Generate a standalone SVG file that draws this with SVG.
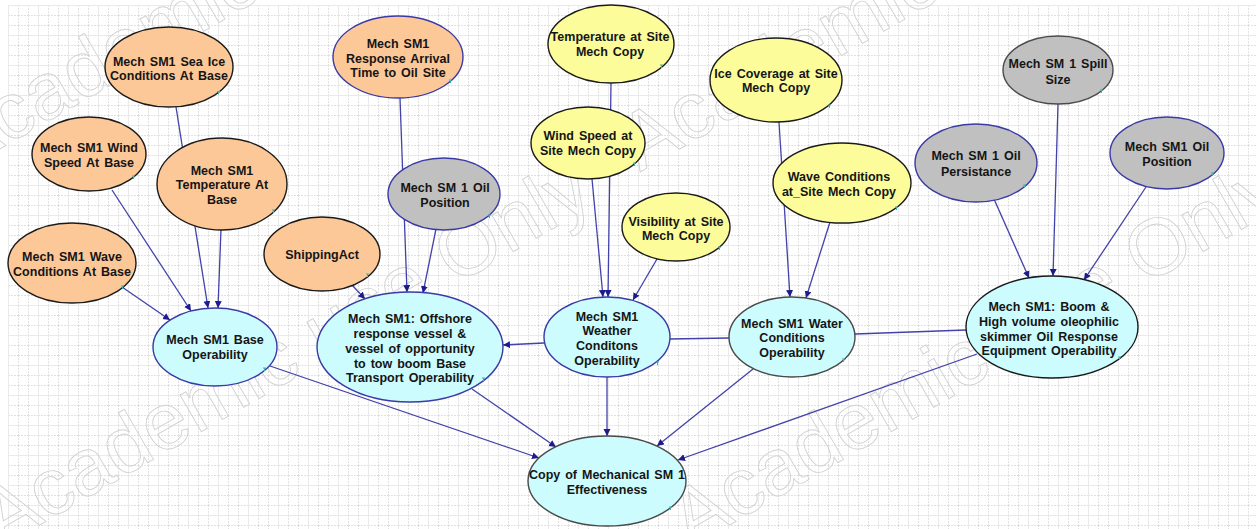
<svg xmlns="http://www.w3.org/2000/svg" width="1256" height="529" viewBox="0 0 1256 529">
  <defs>
    <pattern id="grid" x="8" y="5" width="10" height="10" patternUnits="userSpaceOnUse">
      <path d="M0.5 0 V10 M0 0.5 H10" fill="none" stroke="#e1e1e1" stroke-width="1" stroke-dasharray="2 1"/>
    </pattern>
    <pattern id="gridMajor" x="8" y="5" width="30" height="30" patternUnits="userSpaceOnUse">
      <path d="M0.5 0 V30 M0 0.5 H30" fill="none" stroke="#eaeaea" stroke-width="1"/>
    </pattern>
    <marker id="arrow" markerUnits="userSpaceOnUse" markerWidth="8" markerHeight="8" refX="7" refY="3.5" orient="auto">
      <path d="M0,0 L7,3.5 L0,7 z" fill="#1c1c8c"/>
    </marker>
    <style>
      .edge { fill: none; stroke: #4242aa; stroke-width: 1.3; }
      .arr { marker-end: url(#arrow); }
      ellipse { stroke-width: 1.4; }
      .orange { fill: #fdc898; }
      .yellow { fill: #fdfc9a; }
      .grey { fill: #c0c0c0; }
      .cyan { fill: #ccfcfd; }
      .sk { stroke: #1a1a1a; }
      .sb { stroke: #3a3aa6; }
      .sg { stroke: #4a4a4a; }
      .lbl { font-family: "Liberation Sans", Arial, sans-serif; font-weight: bold; font-size: 12.5px; fill: #151515; text-anchor: middle; word-spacing: 1.5px; }
      .tick { fill: none; stroke: #3ab3b3; stroke-width: 1; }
      .wm { font-family: "Liberation Sans", Arial, sans-serif; font-size: 80px; fill: none; stroke: #d2d2d2; stroke-width: 0.9; }
    </style>
  </defs>

  <!-- canvas -->
  <rect x="0" y="0" width="1256" height="529" fill="#ffffff"/>
  <rect x="8" y="5" width="1248" height="524" fill="url(#grid)"/>
  <rect x="8" y="5" width="1248" height="524" fill="url(#gridMajor)"/>

  <!-- licence watermark, under the graph -->
  <g id="watermark">
    <text class="wm" transform="translate(0,548) rotate(-30)">Academic use Only</text>
    <text class="wm" transform="translate(690,548) rotate(-30)">Academic use Only</text>
    <text class="wm" transform="translate(-40,172) rotate(-30)">Academic use Only</text>
    <text class="wm" transform="translate(640,172) rotate(-30)">Academic use Only</text>
  </g>

  <!-- connectors -->
  <g id="connectors">
    <path class="edge arr" d="M176,107 L208,308"/>
    <path class="edge arr" d="M221,229 L218,308"/>
    <path class="edge arr" d="M112,190 L191,311"/>
    <path class="edge arr" d="M122,287 L170,320"/>
    <path class="edge arr" d="M352,285 L365,299"/>
    <path class="edge arr" d="M400,98 L407,292"/>
    <path class="edge arr" d="M436,229 L423,293"/>
    <path class="edge arr" d="M611,83 L608,297"/>
    <path class="edge arr" d="M592,179 L603,297"/>
    <path class="edge arr" d="M657,259 L633,300"/>
    <path class="edge arr" d="M779,122 L790,297"/>
    <path class="edge arr" d="M830,222 L806,298"/>
    <path class="edge arr" d="M544,343 L503,345"/>
    <path class="edge" d="M670,339 L729,338"/>
    <path class="edge" d="M966,330 L855,334"/>
    <path class="edge arr" d="M270,366 L539,458"/>
    <path class="edge arr" d="M472,389 L556,447"/>
    <path class="edge arr" d="M607,377 L607,436"/>
    <path class="edge arr" d="M753,369 L657,446"/>
    <path class="edge arr" d="M977,354 L678,460"/>
    <path class="edge arr" d="M1058,104 L1053,276"/>
    <path class="edge arr" d="M994,199 L1029,278"/>
    <path class="edge arr" d="M1146,187 L1084,280"/>
  </g>

  <!-- nodes -->
  <g id="sea-ice-base">
    <ellipse class="orange sk" cx="169" cy="67" rx="64" ry="40"/>
    <text class="lbl" x="169" y="65.5">Mech SM1 Sea Ice</text>
    <text class="lbl" x="169" y="79.5">Conditions At Base</text>
    <path class="tick" d="M217,91.5 h3 M218.5,91.5 v3"/>
  </g>
  <g id="wind-speed-base">
    <ellipse class="orange sk" cx="89" cy="154" rx="57" ry="37"/>
    <text class="lbl" x="89" y="151.5">Mech SM1 Wind</text>
    <text class="lbl" x="89" y="166.5">Speed At Base</text>
    <path class="tick" d="M132,176 h3 M133.5,176 v3"/>
  </g>
  <g id="temperature-base">
    <ellipse class="orange sk" cx="222" cy="184" rx="65" ry="46"/>
    <text class="lbl" x="222" y="174.5">Mech SM1</text>
    <text class="lbl" x="222" y="188.5">Temperature At</text>
    <text class="lbl" x="222" y="203.5">Base</text>
    <path class="tick" d="M272,210 h3 M273.5,210 v3"/>
  </g>
  <g id="wave-base">
    <ellipse class="orange sk" cx="72" cy="263" rx="64" ry="40"/>
    <text class="lbl" x="72" y="260.5">Mech SM1 Wave</text>
    <text class="lbl" x="72" y="275.5">Conditions At Base</text>
    <path class="tick" d="M121,286 h3 M122.5,286 v3"/>
  </g>
  <g id="shipping-act">
    <ellipse class="orange sk" cx="322" cy="254" rx="58" ry="37"/>
    <text class="lbl" x="322" y="258.5">ShippingAct</text>
    <path class="tick" d="M366,274 h3 M367.5,274 v3"/>
  </g>
  <g id="response-arrival">
    <ellipse class="orange sb" cx="398" cy="57" rx="65" ry="41"/>
    <text class="lbl" x="398" y="47.5">Mech SM1</text>
    <text class="lbl" x="398" y="62.5">Response Arrival</text>
    <text class="lbl" x="398" y="76.5">Time  to Oil Site</text>
    <path class="tick" d="M449,80 h3 M450.5,80 v3"/>
  </g>
  <g id="oil-position-left">
    <ellipse class="grey sb" cx="444" cy="194" rx="56" ry="36"/>
    <text class="lbl" x="445" y="191.5">Mech SM 1 Oil</text>
    <text class="lbl" x="445" y="206.5">Position</text>
    <path class="tick" d="M488,215 h3 M489.5,215 v3"/>
  </g>
  <g id="temperature-site">
    <ellipse class="yellow sk" cx="611" cy="44" rx="63" ry="39"/>
    <text class="lbl" x="610" y="40.5">Temperature at Site</text>
    <text class="lbl" x="610" y="55.5">Mech Copy</text>
    <path class="tick" d="M660,65 h3 M661.5,65 v3"/>
  </g>
  <g id="wind-speed-site">
    <ellipse class="yellow sk" cx="588" cy="143" rx="57" ry="36"/>
    <text class="lbl" x="588" y="139.5">Wind Speed at</text>
    <text class="lbl" x="588" y="154.5">Site Mech Copy</text>
    <path class="tick" d="M633,163 h3 M634.5,163 v3"/>
  </g>
  <g id="visibility-site">
    <ellipse class="yellow sk" cx="676" cy="227" rx="54" ry="34"/>
    <text class="lbl" x="676" y="225.5">Visibility at Site</text>
    <text class="lbl" x="676" y="239.5">Mech Copy</text>
    <path class="tick" d="M718,247 h3 M719.5,247 v3"/>
  </g>
  <g id="ice-coverage-site">
    <ellipse class="yellow sk" cx="776" cy="80" rx="66" ry="42"/>
    <text class="lbl" x="776" y="77.5">Ice Coverage at Site</text>
    <text class="lbl" x="776" y="91.5">Mech Copy</text>
    <path class="tick" d="M828,105 h3 M829.5,105 v3"/>
  </g>
  <g id="wave-site">
    <ellipse class="yellow sk" cx="842" cy="183" rx="69" ry="40"/>
    <text class="lbl" x="839" y="180.5">Wave Conditions</text>
    <text class="lbl" x="839" y="195.5">at_Site Mech Copy</text>
    <path class="tick" d="M895,207 h3 M896.5,207 v3"/>
  </g>
  <g id="spill-size">
    <ellipse class="grey sg" cx="1058" cy="70" rx="55" ry="34"/>
    <text class="lbl" x="1058" y="67.5">Mech SM 1 Spill</text>
    <text class="lbl" x="1058" y="83.5">Size</text>
    <path class="tick" d="M1100,90 h3 M1101.5,90 v3"/>
  </g>
  <g id="oil-persistance">
    <ellipse class="grey sb" cx="976" cy="163" rx="61" ry="39"/>
    <text class="lbl" x="976" y="159.5">Mech SM 1 Oil</text>
    <text class="lbl" x="976" y="175.5">Persistance</text>
    <path class="tick" d="M1023,185 h3 M1024.5,185 v3"/>
  </g>
  <g id="oil-position-right">
    <ellipse class="grey sb" cx="1167" cy="153" rx="57" ry="36"/>
    <text class="lbl" x="1167" y="150.5">Mech SM1 Oil</text>
    <text class="lbl" x="1167" y="165.5">Position</text>
    <path class="tick" d="M1211,173 h3 M1212.5,173 v3"/>
  </g>
  <g id="base-operability">
    <ellipse class="cyan sb" cx="215" cy="347" rx="62" ry="39"/>
    <text class="lbl" x="215" y="343.5">Mech SM1 Base</text>
    <text class="lbl" x="215" y="358.5">Operability</text>
    <path class="tick" d="M263,368 h3 M264.5,368 v3"/>
  </g>
  <g id="offshore-transport">
    <ellipse class="cyan sb" cx="410" cy="347" rx="93" ry="55"/>
    <text class="lbl" x="410" y="322.5">Mech SM1: Offshore</text>
    <text class="lbl" x="410" y="337.5">response vessel &amp;</text>
    <text class="lbl" x="410" y="352.5">vessel of opportunity</text>
    <text class="lbl" x="410" y="367.5">to tow boom Base</text>
    <text class="lbl" x="410" y="381.5">Transport Operability</text>
    <path class="tick" d="M482,378 h3 M483.5,378 v3"/>
  </g>
  <g id="weather-operability">
    <ellipse class="cyan sb" cx="607" cy="337" rx="63" ry="40"/>
    <text class="lbl" x="607" y="320.5">Mech SM1</text>
    <text class="lbl" x="607" y="334.5">Weather</text>
    <text class="lbl" x="607" y="349.5">Conditons</text>
    <text class="lbl" x="607" y="364.5">Operability</text>
    <path class="tick" d="M656,362 h3 M657.5,362 v3"/>
  </g>
  <g id="water-operability">
    <ellipse class="cyan sg" cx="792" cy="337" rx="63" ry="40"/>
    <text class="lbl" x="792" y="327.5">Mech SM1 Water</text>
    <text class="lbl" x="792" y="341.5">Conditions</text>
    <text class="lbl" x="792" y="356.5">Operability</text>
    <path class="tick" d="M842,359 h3 M843.5,359 v3"/>
  </g>
  <g id="boom-skimmer-operability">
    <ellipse class="cyan sk" cx="1052" cy="327" rx="86" ry="51"/>
    <text class="lbl" x="1049" y="310.5">Mech  SM1: Boom &amp;</text>
    <text class="lbl" x="1049" y="325.5">High volume oleophilic</text>
    <text class="lbl" x="1049" y="340.5">skimmer Oil Response</text>
    <text class="lbl" x="1049" y="354.5">Equipment Operability</text>
    <path class="tick" d="M1118,357 h3 M1119.5,357 v3"/>
  </g>
  <g id="mechanical-effectiveness">
    <ellipse class="cyan sg" cx="607" cy="481" rx="79" ry="45"/>
    <text class="lbl" x="607" y="478.5">Copy of Mechanical SM 1</text>
    <text class="lbl" x="607" y="493.5">Effectiveness</text>
    <path class="tick" d="M669,507 h3 M670.5,507 v3"/>
  </g>
</svg>
